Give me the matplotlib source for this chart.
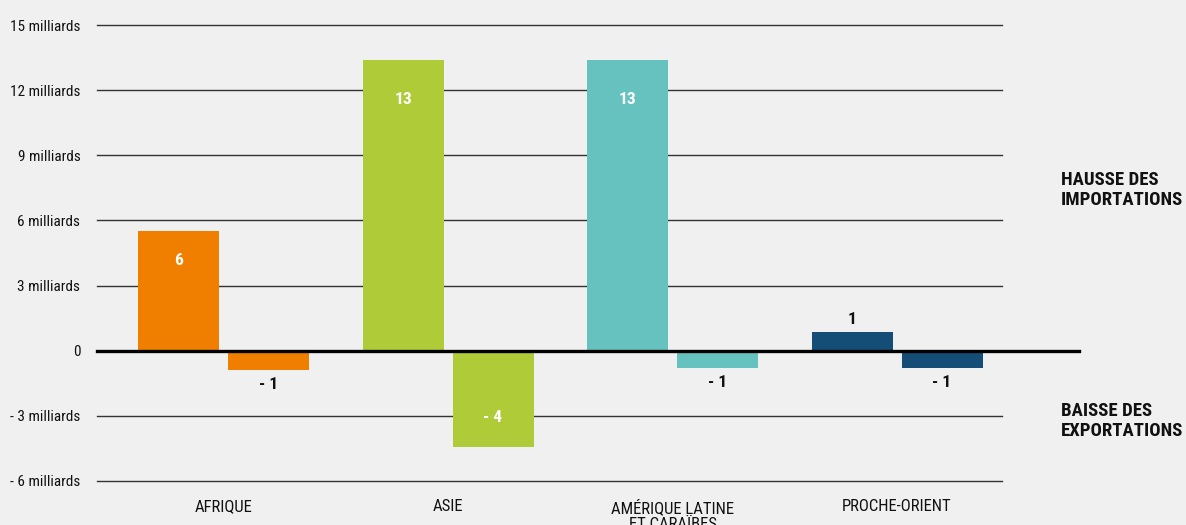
import matplotlib
matplotlib.use("Agg")
import matplotlib.pyplot as plt
from matplotlib import font_manager

categories = ["AFRIQUE", "ASIE", "AMÉRIQUE LATINE\nET CARAÏBES", "PROCHE-ORIENT"]
imports_up = [5.5, 13.4, 13.4, 0.85]
exports_down = [-0.9, -4.45, -0.8, -0.8]
colors = ["#F07F00", "#AFCB37", "#66C2BF", "#144D75"]
yticks = [-6, -3, 0, 3, 6, 9, 12, 15]
ytick_labels = ["- 6 milliards", "- 3 milliards", "0", "3 milliards", "6 milliards",
                "9 milliards", "12 milliards", "15 milliards"]

names = {f.name for f in font_manager.fontManager.ttflist}
fam = [f for f in ["Liberation Sans Narrow", "DejaVu Sans Condensed", "Roboto Condensed", "DejaVu Sans"] if f in names]
plt.rcParams['font.family'] = fam

BG = "#F0F0F0"
W, H = 1186, 525
fig = plt.figure(figsize=(W / 100, H / 100), dpi=100, facecolor=BG)
ax = fig.add_axes([97 / W, 1 - 481 / H, (1002 - 97) / W, (481 - 25) / H], facecolor=BG)

bw = 81 / 224.5
off = 45 / 224.5
x0 = -(223.5 - 97) / 224.5
ax.set_xlim(x0, x0 + (1002 - 97) / 224.5)
ax.set_ylim(-6, 15)

for y in yticks:
    if y != 0:
        ax.axhline(y, color="#333333", lw=1.0, zorder=1, clip_on=False)

def lab(v):
    r = int(round(abs(v)))
    return f"- {r}" if v < 0 else f"{r}"

for i, (up, dn, c) in enumerate(zip(imports_up, exports_down, colors)):
    ax.bar(i - off, up, width=bw, color=c, zorder=2)
    ax.bar(i + off, dn, width=bw, color=c, zorder=2)
    for xv, v in ((i - off, up), (i + off, dn)):
        inside = abs(v) > 2
        if v > 0:
            if inside:
                dy, col = (-40 if v > 10 else -29), "white"
            else:
                dy, col = 13, "#111111"
        else:
            if inside:
                dy, col = 30, "white"
            else:
                dy, col = -14, "#111111"
        ax.annotate(lab(v), (xv, v), xytext=(0, dy * 0.72), textcoords="offset points",
                    ha="center", va="center", color=col, fontsize=12.5, fontweight="bold", zorder=4)

# zero line extends beyond the plot
ax.plot([x0, x0 + (1079 - 97) / 224.5], [0, 0], color="black", lw=2.4, zorder=3, clip_on=False)

ax.set_yticks(yticks)
ax.set_yticklabels(ytick_labels, fontsize=11, color="#111111")
ax.tick_params(axis="y", length=0, pad=12)
ax.set_xticks(range(len(categories)))
ax.set_xticklabels(categories, fontsize=12, color="#111111", linespacing=1.05, va="top")
ax.tick_params(axis="x", length=0, pad=13)
for s in ax.spines.values():
    s.set_visible(False)

fig.text(1061 / W, 1 - 190 / H, "HAUSSE DES\nIMPORTATIONS", fontsize=13.5, fontweight="bold",
         color="#111111", ha="left", va="center", linespacing=1.15)
fig.text(1061 / W, 1 - 421 / H, "BAISSE DES\nEXPORTATIONS", fontsize=13.5, fontweight="bold",
         color="#111111", ha="left", va="center", linespacing=1.15)

fig.savefig("out.png", dpi=100, facecolor=BG)
